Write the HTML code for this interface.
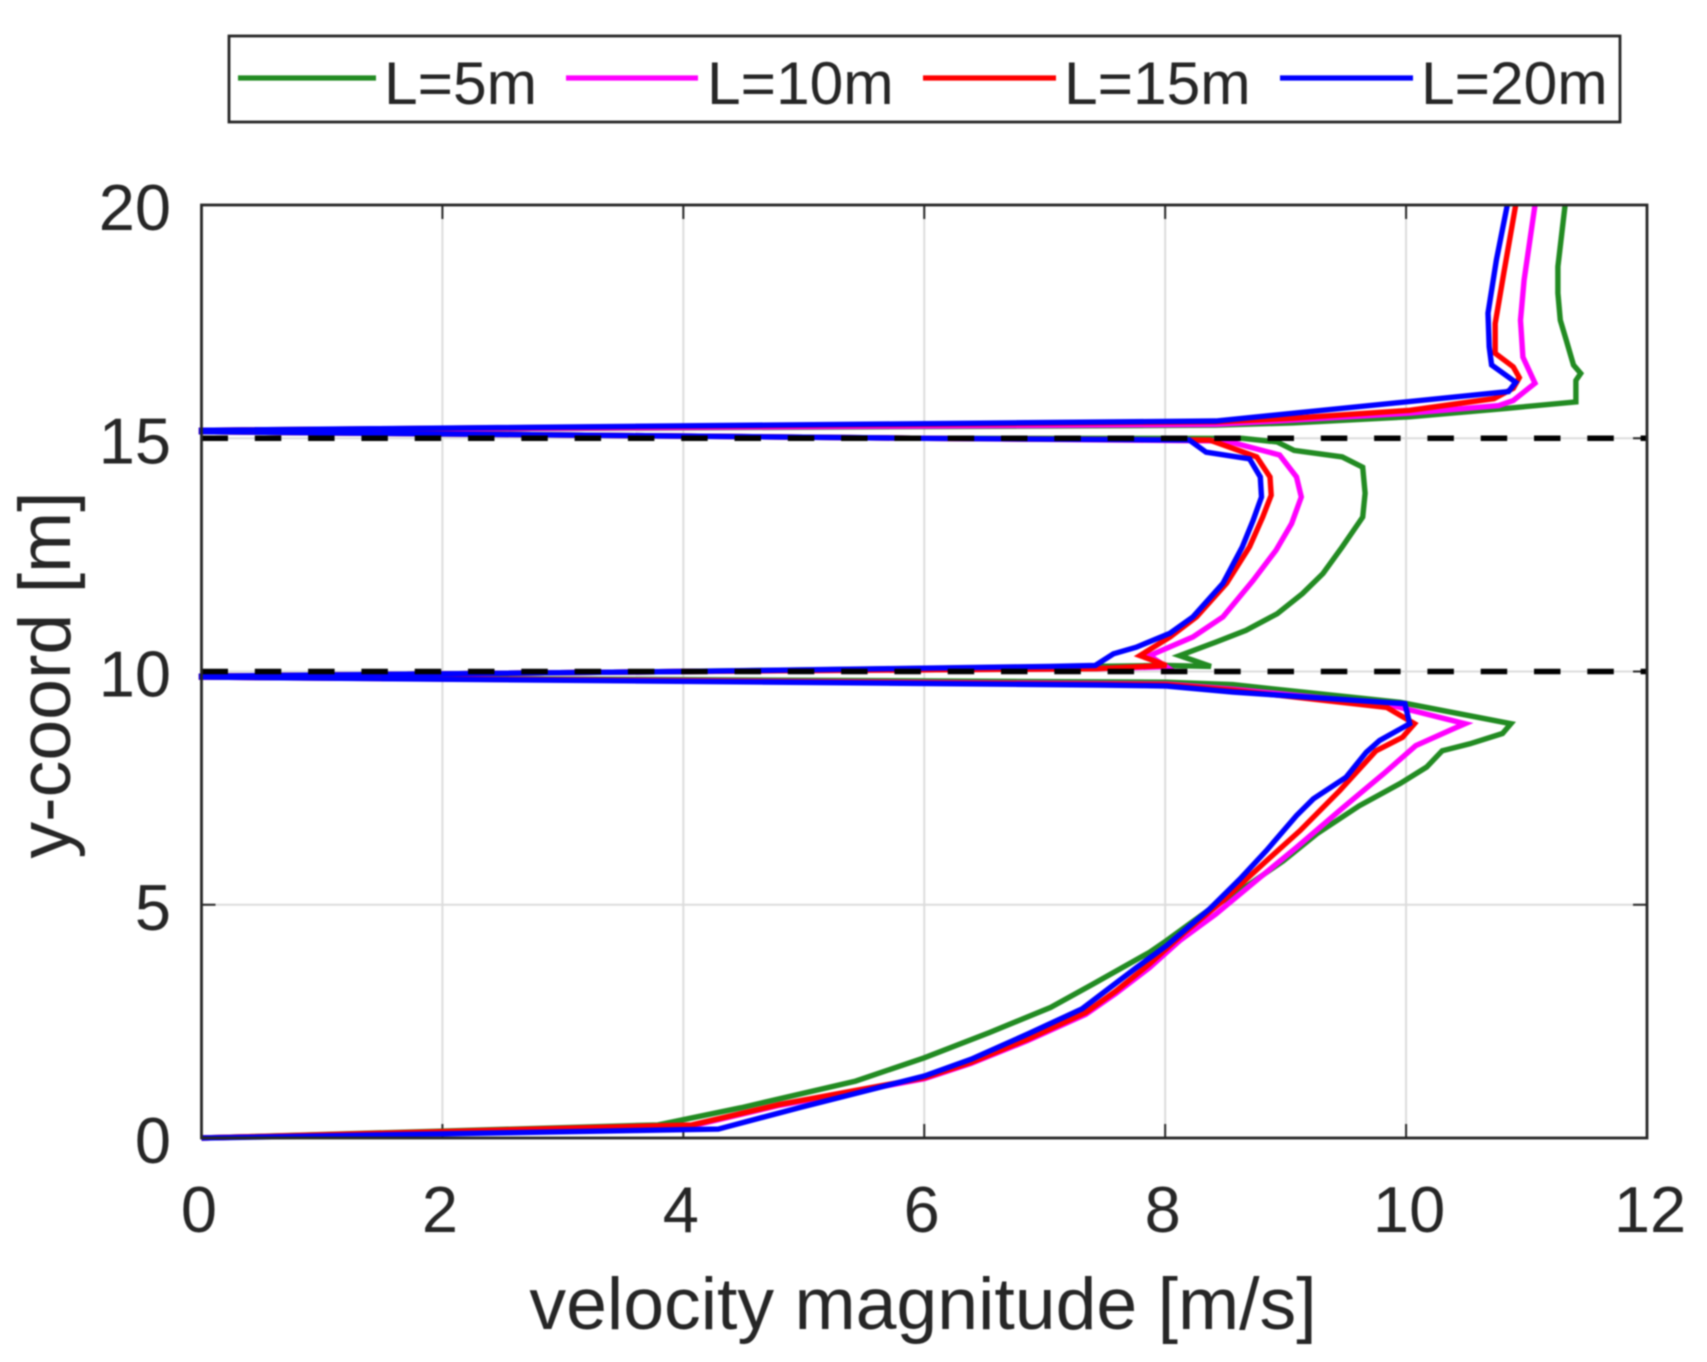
<!DOCTYPE html>
<html lang="en">
<head>
<meta charset="utf-8">
<title>Velocity magnitude profiles</title>
<style>
  html, body { margin: 0; padding: 0; background: #fff; }
  #chart { display: block; filter: blur(0.8px); }
  text { font-family: "Liberation Sans", Arial, sans-serif; fill: #262626; }
</style>
</head>
<body>
<svg id="chart" xmlns="http://www.w3.org/2000/svg" width="1707" height="1362" viewBox="0 0 1707 1362">
  <rect x="0" y="0" width="1707" height="1362" fill="#fff"/>
  <g id="grid"></g>
  <g id="ticks"></g>
  <g id="series"></g>
  <g id="refs"></g>
  <g id="frame"></g>
  <g id="tick-labels"></g>
  <text x="923" y="1329" font-size="73.4" text-anchor="middle">velocity magnitude [m/s]</text>
  <text x="70" y="675" font-size="73.4" text-anchor="middle" transform="rotate(-90 70 675)">y-coord [m]</text>
  <g>
    <rect x="229" y="36" width="1391" height="86" fill="#fff" stroke="#262626" stroke-width="2.8"/>
    <g>
      <line x1="238" y1="78" x2="376" y2="78" stroke="#228b22" stroke-width="5.2"/>
      <text x="384" y="104" font-size="60.5">L=5m</text>
    </g>
    <g>
      <line x1="566" y1="78" x2="698" y2="78" stroke="#ff00ff" stroke-width="5.2"/>
      <text x="707" y="104" font-size="60.5">L=10m</text>
    </g>
    <g>
      <line x1="923" y1="78" x2="1056" y2="78" stroke="#ff0000" stroke-width="5.2"/>
      <text x="1064" y="104" font-size="60.5">L=15m</text>
    </g>
    <g>
      <line x1="1280" y1="78" x2="1413" y2="78" stroke="#0000ff" stroke-width="5.2"/>
      <text x="1421" y="104" font-size="60.5">L=20m</text>
    </g>
  </g>
</svg>
<script>
const xTickValues = [0, 2, 4, 6, 8, 10, 12];
const yTickValues = [0, 5, 10, 15, 20];
const referenceLevels = [10, 15];

const velocityL5 = [11.32,11.26,11.26,11.28,11.33,11.39,11.45,11.41,11.41,10.83,10.03,9.06,8.42,0,0,6,8.64,8.93,9.07,9.47,9.64,9.66,9.64,9.47,9.31,9.14,8.93,8.67,8.42,8.12,8.38,8.01,4,0,0,8.01,8.56,9.95,10.87,10.8,10.53,10.3,10.17,9.95,9.61,9.26,8.98,8.62,8.39,8.01,7.87,7.4,7.05,6.54,6,5.43,4.48,3.79,0];
const yCoordL5 = [20,18.68,18.11,17.53,17.1,16.57,16.39,16.24,15.78,15.64,15.46,15.33,15.28,15.17,15.14,15.0,15.0,14.92,14.74,14.6,14.38,13.82,13.31,12.67,12.1,11.67,11.24,10.88,10.63,10.34,10.11,10.13,10.0,9.9,9.88,9.77,9.72,9.34,8.88,8.67,8.45,8.3,7.95,7.6,7.12,6.52,5.94,5.3,4.94,4.23,3.98,3.3,2.8,2.26,1.72,1.22,0.65,0.28,0];

const velocityL10 = [11.07,10.98,10.95,10.97,11.07,10.89,10.77,10.03,9.06,8.42,0,0,6,8.51,8.95,9.09,9.13,9.05,8.92,8.73,8.48,8.23,7.87,8.01,7.43,4,0,0,8.01,8.56,9.84,10.49,10.39,10.08,9.81,9.48,9.09,8.79,8.42,8.12,7.87,7.59,7.34,6.86,6.39,6,4.8,4.07,0];
const yCoordL10 = [20,18.39,17.53,16.74,16.18,15.81,15.7,15.54,15.39,15.3,15.17,15.14,15.0,14.94,14.64,14.17,13.74,13.17,12.6,11.95,11.17,10.74,10.34,10.1,10.06,10.0,9.9,9.88,9.73,9.62,9.3,8.88,8.77,8.41,7.8,7.09,6.23,5.59,4.8,4.23,3.65,3.1,2.65,2.09,1.6,1.27,0.7,0.26,0];

const velocityL15 = [10.91,10.81,10.74,10.74,10.89,10.94,10.89,10.73,10.03,9.06,8.42,0,0,6,8.37,8.76,8.87,8.88,8.81,8.7,8.51,8.26,8.04,7.79,8.01,7.43,4,0,0,8.01,8.56,9.84,10.07,9.97,9.75,9.45,9.12,8.84,8.48,8.15,7.87,7.59,7.34,6.86,6.39,6,4.8,4.07,0];
const yCoordL15 = [20,18.53,17.46,16.82,16.53,16.3,16.07,15.85,15.6,15.43,15.35,15.17,15.14,15.0,14.96,14.6,14.17,13.78,13.31,12.67,11.89,11.17,10.74,10.34,10.13,10.06,10.0,9.9,9.88,9.72,9.6,9.23,8.88,8.59,8.3,7.45,6.59,5.94,5.09,4.38,3.73,3.15,2.69,2.12,1.62,1.29,0.72,0.28,0];

const velocityL20 = [10.84,10.75,10.68,10.69,10.71,10.91,10.85,8.42,0,0,6,8.2,8.34,8.7,8.79,8.8,8.73,8.64,8.48,8.23,8.04,7.76,7.57,7.42,7.04,4,0,0,7.46,8.01,8.56,9.99,10.03,9.78,9.67,9.5,9.23,9.09,8.84,8.62,8.37,8.01,7.76,7.53,7.31,6.86,6.39,6,4.96,4.29,0];
const yCoordL20 = [20,18.82,17.68,16.96,16.57,16.2,16,15.37,15.17,15.14,15.0,14.96,14.7,14.56,14.17,13.74,13.24,12.67,11.89,11.17,10.82,10.52,10.38,10.13,10.11,10.0,9.9,9.88,9.71,9.69,9.56,9.31,8.88,8.52,8.27,7.73,7.27,6.91,6.16,5.55,4.91,4.12,3.65,3.2,2.77,2.23,1.69,1.33,0.65,0.19,0];

const seriesNames = ['l5', 'l10', 'l15', 'l20'];
const seriesColors = ['#228b22', '#ff00ff', '#ff0000', '#0000ff'];
const seriesVelocities = [velocityL5, velocityL10, velocityL15, velocityL20];
const seriesCoords = [yCoordL5, yCoordL10, yCoordL15, yCoordL20];

const SVG_NS = 'http://www.w3.org/2000/svg';
const plotLeft = 201.5, plotRight = 1647, plotTop = 205, plotBottom = 1138;
const xMin = 0, xMax = 12, yMin = 0, yMax = 20;
function xScale(v) { return plotLeft + (v - xMin) / (xMax - xMin) * (plotRight - plotLeft); }
function yScale(y) { return plotBottom - (y - yMin) / (yMax - yMin) * (plotBottom - plotTop); }

function makeLine(parent, x1, y1, x2, y2, color, width) {
  const el = document.createElementNS(SVG_NS, 'line');
  el.setAttribute('x1', x1);
  el.setAttribute('y1', y1);
  el.setAttribute('x2', x2);
  el.setAttribute('y2', y2);
  el.setAttribute('stroke', color);
  el.setAttribute('stroke-width', width);
  parent.appendChild(el);
  return el;
}
function makeText(parent, x, y, size, anchor, content) {
  const el = document.createElementNS(SVG_NS, 'text');
  el.setAttribute('x', x);
  el.setAttribute('y', y);
  el.setAttribute('font-size', size);
  el.setAttribute('text-anchor', anchor);
  el.textContent = content;
  parent.appendChild(el);
  return el;
}

const gridGroup = document.getElementById('grid');
const ticksGroup = document.getElementById('ticks');
const labelsGroup = document.getElementById('tick-labels');
const seriesGroup = document.getElementById('series');
const refsGroup = document.getElementById('refs');
const frameGroup = document.getElementById('frame');

xTickValues.forEach(function (v) {
  const x = xScale(v);
  if (v > xMin && v < xMax) {
    const g = makeLine(gridGroup, x, plotTop, x, plotBottom, '#dcdcdc', 2);
    
    
    const t1 = makeLine(ticksGroup, x, plotBottom, x, plotBottom - 14, '#262626', 2);
    
    
    const t2 = makeLine(ticksGroup, x, plotTop, x, plotTop + 14, '#262626', 2);
    
    
  }
  const labelShift = v >= 10 ? 3 : -2.5;
  const lbl = makeText(labelsGroup, x + labelShift, 1232, 65, 'middle', String(v));
  
  
});

yTickValues.forEach(function (v) {
  const y = yScale(v);
  if (v > yMin && v < yMax) {
    const g = makeLine(gridGroup, plotLeft, y, plotRight, y, '#dcdcdc', 2);
    
    
    const t1 = makeLine(ticksGroup, plotLeft, y, plotLeft + 14, y, '#262626', 2);
    
    
    const t2 = makeLine(ticksGroup, plotRight, y, plotRight - 14, y, '#262626', 2);
    
    
  }
  const lbl = makeText(labelsGroup, 171, y + 25, 65, 'end', String(v));
  
  
});

seriesNames.forEach(function (name, i) {
  const xs = seriesVelocities[i];
  const ys = seriesCoords[i];
  const pts = xs.map(function (v, k) { return xScale(v).toFixed(1) + ',' + yScale(ys[k]).toFixed(1); });
  const el = document.createElementNS(SVG_NS, 'polyline');
  
  
  el.setAttribute('points', pts.join(' '));
  el.setAttribute('fill', 'none');
  el.setAttribute('stroke', seriesColors[i]);
  el.setAttribute('stroke-width', '5.4');
  el.setAttribute('stroke-linejoin', 'miter');
  seriesGroup.appendChild(el);
});

referenceLevels.forEach(function (level) {
  const y = yScale(level);
  const el = makeLine(refsGroup, plotLeft, y, plotRight, y, '#000', 5.5);
  
  
  el.setAttribute('stroke-dasharray', '26.5 26.8');
});

const frame = document.createElementNS(SVG_NS, 'rect');


frame.setAttribute('x', plotLeft);
frame.setAttribute('y', plotTop);
frame.setAttribute('width', plotRight - plotLeft);
frame.setAttribute('height', plotBottom - plotTop);
frame.setAttribute('fill', 'none');
frame.setAttribute('stroke', '#262626');
frame.setAttribute('stroke-width', '2.8');
frameGroup.appendChild(frame);
</script>
</body>
</html>
